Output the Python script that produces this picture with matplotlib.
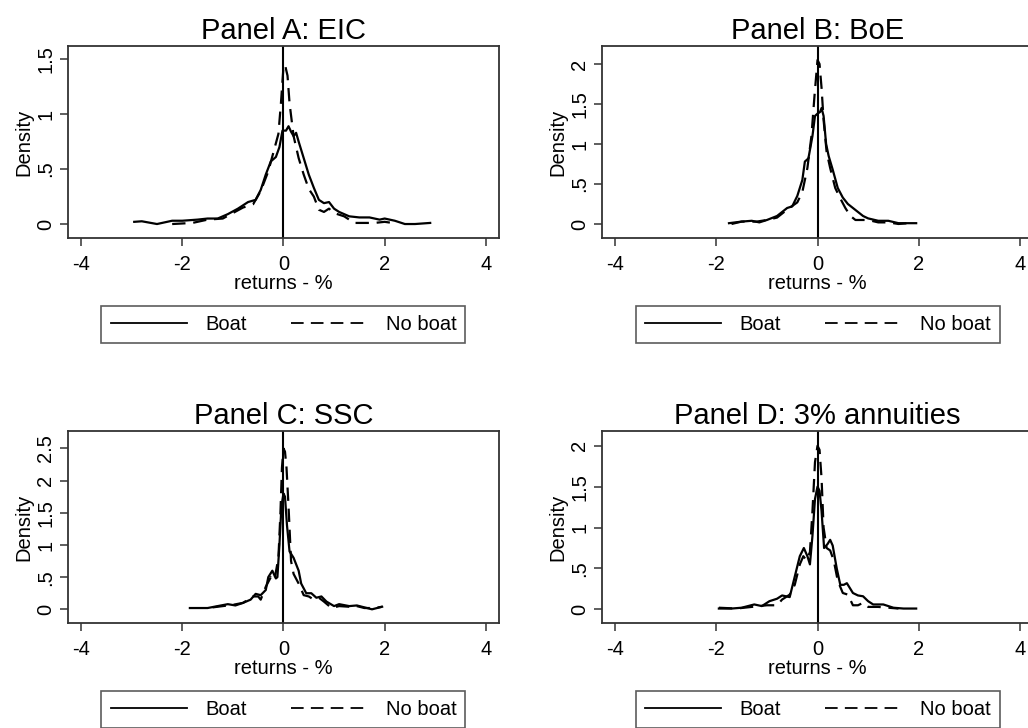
import numpy as np
import matplotlib.pyplot as plt
from matplotlib.lines import Line2D

plt.rcParams['font.family'] = ['Liberation Sans', 'DejaVu Sans']

# ---- data (kernel densities, returns in %) ----
# Panel A: EIC
a_boat_x = [-2.95, -2.8, -2.5, -2.2, -2.0, -1.7, -1.5, -1.3, -1.1, -0.9, -0.7, -0.55, -0.45,
            -0.35, -0.25, -0.15, -0.08, -0.02, 0.05, 0.1, 0.15, 0.2, 0.25, 0.3, 0.4, 0.5, 0.6,
            0.7, 0.8, 0.9, 1.0, 1.1, 1.3, 1.5, 1.7, 1.9, 2.0, 2.2, 2.4, 2.6, 2.9]
a_boat_y = [0.02, 0.025, 0.0, 0.03, 0.03, 0.04, 0.05, 0.05, 0.09, 0.14, 0.2, 0.22, 0.31,
            0.45, 0.57, 0.61, 0.7, 0.85, 0.85, 0.89, 0.84, 0.8, 0.83, 0.75, 0.6, 0.45, 0.33,
            0.22, 0.19, 0.2, 0.14, 0.11, 0.07, 0.06, 0.06, 0.04, 0.05, 0.03, 0.0, 0.0, 0.01]
a_noboat_x = [-2.2, -1.8, -1.5, -1.2, -1.0, -0.8, -0.6, -0.45, -0.3, -0.2, -0.1, -0.05, 0.0,
              0.03, 0.08, 0.12, 0.2, 0.3, 0.4, 0.5, 0.6, 0.7, 0.8, 0.9, 1.0, 1.2, 1.4, 1.6,
              1.8, 2.0, 2.15]
a_noboat_y = [0.0, 0.01, 0.04, 0.05, 0.1, 0.15, 0.18, 0.3, 0.48, 0.65, 0.82, 1.1, 1.43,
              1.45, 1.35, 1.1, 0.8, 0.6, 0.45, 0.32, 0.25, 0.13, 0.11, 0.14, 0.1, 0.07, 0.01,
              0.01, 0.01, 0.02, 0.01]

# Panel B: BoE
b_boat_x = [-1.75, -1.5, -1.3, -1.15, -1.0, -0.8, -0.6, -0.5, -0.4, -0.3, -0.25, -0.18, -0.1,
            -0.05, 0.0, 0.05, 0.08, 0.12, 0.17, 0.22, 0.3, 0.4, 0.5, 0.6, 0.7, 0.8, 0.9, 1.0,
            1.2, 1.4, 1.6, 1.8, 1.95]
b_boat_y = [0.01, 0.03, 0.04, 0.02, 0.05, 0.1, 0.2, 0.22, 0.35, 0.55, 0.78, 0.82, 1.1,
            1.35, 1.38, 1.4, 1.45, 1.35, 1.0, 0.85, 0.68, 0.45, 0.33, 0.25, 0.2, 0.15, 0.1, 0.07,
            0.04, 0.04, 0.01, 0.01, 0.01]
b_noboat_x = [-1.7, -1.5, -1.2, -1.0, -0.8, -0.6, -0.4, -0.3, -0.2, -0.12, -0.06, 0.0, 0.04,
              0.08, 0.12, 0.18, 0.25, 0.35, 0.45, 0.55, 0.65, 0.75, 0.85, 1.0, 1.2, 1.4, 1.6, 1.8]
b_noboat_y = [0.0, 0.03, 0.03, 0.05, 0.08, 0.18, 0.27, 0.4, 0.7, 1.1, 1.6, 2.05, 2.0,
              1.7, 1.3, 0.9, 0.7, 0.45, 0.32, 0.2, 0.1, 0.05, 0.05, 0.05, 0.02, 0.02, 0.0, 0.01]

# Panel C: SSC
c_boat_x = [-1.85, -1.5, -1.3, -1.1, -0.95, -0.8, -0.65, -0.55, -0.45, -0.35, -0.3, -0.22,
            -0.15, -0.12, -0.08, -0.04, 0.0, 0.03, 0.07, 0.12, 0.2, 0.3, 0.35, 0.45, 0.55, 0.65,
            0.75, 0.85, 1.0, 1.1, 1.3, 1.45, 1.6, 1.75, 1.9, 1.95]
c_boat_y = [0.02, 0.02, 0.05, 0.08, 0.06, 0.1, 0.15, 0.24, 0.22, 0.3, 0.5, 0.6,
            0.48, 0.5, 1.0, 1.6, 1.8, 1.75, 1.3, 0.9, 0.8, 0.6, 0.4, 0.25, 0.25, 0.18,
            0.2, 0.12, 0.05, 0.08, 0.05, 0.06, 0.03, 0.0, 0.03, 0.04]
c_noboat_x = [-1.4, -1.2, -1.0, -0.8, -0.6, -0.5, -0.45, -0.35, -0.25, -0.18, -0.1, -0.06,
              -0.03, 0.0, 0.03, 0.06, 0.1, 0.15, 0.2, 0.3, 0.4, 0.5, 0.6, 0.7, 0.8, 0.95, 1.1,
              1.3, 1.4, 1.6, 1.8, 1.95]
c_noboat_y = [0.03, 0.05, 0.07, 0.1, 0.2, 0.2, 0.15, 0.35, 0.5, 0.45, 0.8, 1.5,
              2.2, 2.5, 2.45, 2.2, 1.6, 0.75, 0.55, 0.4, 0.22, 0.2, 0.15, 0.18, 0.12, 0.02, 0.05,
              0.04, 0.06, 0.02, 0.02, 0.04]

# Panel D: 3% annuities
d_boat_x = [-1.95, -1.7, -1.5, -1.25, -1.1, -0.95, -0.8, -0.7, -0.55, -0.45, -0.35, -0.27,
            -0.2, -0.15, -0.1, -0.05, 0.0, 0.04, 0.08, 0.13, 0.2, 0.25, 0.3, 0.38, 0.45, 0.52,
            0.58, 0.7, 0.8, 0.9, 1.0, 1.1, 1.3, 1.5, 1.7, 1.95]
d_boat_y = [0.01, 0.01, 0.02, 0.06, 0.04, 0.1, 0.13, 0.17, 0.15, 0.4, 0.65, 0.75,
            0.65, 0.55, 0.9, 1.35, 1.5, 1.45, 1.2, 0.75, 0.8, 0.85, 0.78, 0.5, 0.3, 0.3,
            0.32, 0.2, 0.17, 0.16, 0.1, 0.06, 0.06, 0.02, 0.01, 0.01]
d_noboat_x = [-1.95, -1.6, -1.3, -1.0, -0.8, -0.7, -0.55, -0.45, -0.35, -0.28, -0.22, -0.15,
              -0.1, -0.05, 0.0, 0.04, 0.08, 0.12, 0.18, 0.25, 0.32, 0.4, 0.5, 0.6, 0.7, 0.8,
              0.9, 1.0, 1.2, 1.4, 1.6]
d_noboat_y = [0.02, 0.01, 0.03, 0.05, 0.05, 0.12, 0.18, 0.3, 0.55, 0.65, 0.6, 0.7,
              1.2, 1.8, 2.0, 1.95, 1.6, 1.0, 0.75, 0.72, 0.6, 0.35, 0.2, 0.18, 0.05, 0.05,
              0.08, 0.03, 0.03, 0.02, 0.01]

titles = ['Panel A: EIC', 'Panel B: BoE', 'Panel C: SSC', 'Panel D: 3% annuities']
x_ticks = [-4, -2, 0, 2, 4]
y_ticks = [[0, 0.5, 1, 1.5], [0, 0.5, 1, 1.5, 2], [0, 0.5, 1, 1.5, 2, 2.5], [0, 0.5, 1, 1.5, 2]]
y_tick_labels = [['0', '.5', '1', '1.5'], ['0', '.5', '1', '1.5', '2'],
                 ['0', '.5', '1', '1.5', '2', '2.5'], ['0', '.5', '1', '1.5', '2']]
y_lims = [(-0.127, 1.62), (-0.175, 2.225), (-0.213, 2.77), (-0.167, 2.18)]

boats = [(a_boat_x, a_boat_y), (b_boat_x, b_boat_y), (c_boat_x, c_boat_y), (d_boat_x, d_boat_y)]
noboats = [(a_noboat_x, a_noboat_y), (b_noboat_x, b_noboat_y),
           (c_noboat_x, c_noboat_y), (d_noboat_x, d_noboat_y)]

fig = plt.figure(figsize=(10.28, 7.28), dpi=100)

# axes positions in figure fraction (right column runs off the edge like the original)
w, h = 0.4193, 0.2637
positions = [(0.0661, 0.6731), (0.5856, 0.6731), (0.0661, 0.1442), (0.5856, 0.1442)]

lw = 1.6
dash = (6, 3.5)
spine_col = '#333333'

for i in range(4):
    ax = fig.add_axes([positions[i][0], positions[i][1], w, h])
    bx, by = boats[i]
    nx, ny = noboats[i]
    ax.plot(bx, by, color='black', lw=lw)
    ax.plot(nx, ny, color='black', lw=lw, dashes=dash)
    ax.axvline(0, color='black', lw=1.5)

    ax.set_xlim(-4.26, 4.26)
    ax.set_ylim(*y_lims[i])
    ax.set_xticks(x_ticks)
    ax.set_xticklabels([str(t) for t in x_ticks])
    ax.set_yticks(y_ticks[i])
    ax.set_yticklabels(y_tick_labels[i])
    plt.setp(ax.get_yticklabels(), rotation=90, va='center')

    ax.tick_params(direction='out', length=6, width=1.1, labelsize=14.5, color=spine_col)
    ax.tick_params(axis='x', pad=6.5)
    ax.tick_params(axis='y', pad=3)
    for s in ax.spines.values():
        s.set_color(spine_col)
        s.set_linewidth(1.3)

    ax.set_title(titles[i], fontsize=21, pad=5)
    ax.set_xlabel('returns - %', fontsize=14.5, labelpad=0)
    ax.set_ylabel('Density', fontsize=14.5, labelpad=2)

    handles = [Line2D([], [], color='black', lw=1.3),
               Line2D([], [], color='black', lw=1.3, dashes=(7, 4))]
    leg = ax.legend(handles, ['Boat', 'No boat'], loc='center', bbox_to_anchor=(0.5, -0.45),
                    ncol=2, fontsize=14.5, frameon=True, fancybox=False, edgecolor=spine_col,
                    handlelength=3.8, handletextpad=0.9, columnspacing=2.2,
                    borderpad=0.45, borderaxespad=0)
    leg.get_frame().set_linewidth(1.2)

fig.savefig('out.png', dpi=100, facecolor='white')
